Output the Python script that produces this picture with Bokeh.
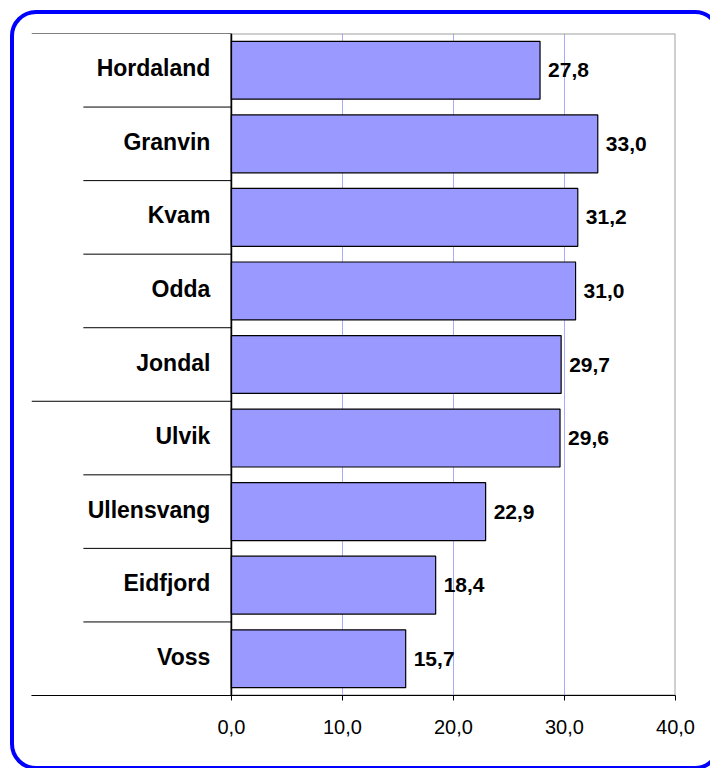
from bokeh.plotting import figure
from bokeh.models import Range1d, FixedTicker, Span
from bokeh.core.properties import value
from bokeh.embed import file_html
from bokeh.resources import INLINE

# ---- data ----
categories = ["Hordaland", "Granvin", "Kvam", "Odda", "Jondal",
              "Ulvik", "Ullensvang", "Eidfjord", "Voss"]
values = [27.8, 33.0, 31.2, 31.0, 29.7, 29.6, 22.9, 18.4, 15.7]
value_labels = ["27,8", "33,0", "31,2", "31,0", "29,7", "29,6", "22,9", "18,4", "15,7"]
xticks = [0, 10, 20, 30, 40]
xtick_labels = ["0,0", "10,0", "20,0", "30,0", "40,0"]
group_breaks_after = ["Jondal"]   # long separator line below this category

n = len(categories)
centers = [n - i - 0.5 for i in range(n)]

FONT = "Liberation Sans"
X_MIN = -18.0  # label area to the left of the value axis
W, H = 710, 768

# decorative rounded frame around the chart (right and bottom sides run off the page)
frame_svg = ("data:image/svg+xml;utf8,<svg xmlns='http://www.w3.org/2000/svg' "
             f"width='{W}' height='{H}' viewBox='0 0 {W} {H}'>"
             "<rect x='12' y='12' width='707' height='756' rx='24' ry='24' "
             "fill='none' stroke='%230000ff' stroke-width='4'/></svg>")

p = figure(width=W, height=H, output_backend="svg", toolbar_location=None,
           x_range=Range1d(X_MIN, 40), y_range=Range1d(0, n),
           y_axis_location=None,
           min_border_left=31, min_border_right=35,
           min_border_top=33, min_border_bottom=73,
           styles={"background-image": f'url("{frame_svg}")',
                   "background-repeat": "no-repeat",
                   "background-position": "0px 0px",
                   "background-size": f"{W}px {H}px",
                   "background-color": "white"})
p.outline_line_color = None
p.background_fill_color = None
p.border_fill_color = None

# x axis
p.xaxis.ticker = FixedTicker(ticks=xticks)
p.xaxis.major_label_overrides = {t: l for t, l in zip(xticks, xtick_labels)}
p.xaxis.axis_line_color = "black"
p.xaxis.axis_line_width = 1
p.xaxis.major_tick_line_color = "black"
p.xaxis.major_tick_in = 0
p.xaxis.major_tick_out = 5
p.xaxis.minor_tick_line_color = None
p.xaxis.major_label_text_font = FONT
p.xaxis.major_label_text_font_size = "20px"
p.xaxis.major_label_text_color = "black"
p.xaxis.major_label_standoff = 19

# grid
p.xgrid.ticker = FixedTicker(ticks=xticks)
p.xgrid.grid_line_color = "#aaaaff"
p.xgrid.grid_line_width = 1
p.ygrid.grid_line_color = None

# plot-area border (gray, top & right)
p.quad(left=[0], right=[xticks[-1]], bottom=[0], top=[n],
       fill_color=None, line_color="#a0a0a0", line_width=2)

# bars
p.hbar(y=centers, right=values, left=0, height=0.787,
       fill_color="#9999ff", line_color="black", line_width=1.2)

# category separators
boundaries = list(range(1, n))
long_b = [n - (categories.index(c) + 1) for c in group_breaks_after]
short_b = [b for b in boundaries if b not in long_b]
p.segment(x0=-13.33, x1=0, y0=short_b, y1=short_b, line_color="black", line_width=1)
long_all = [0, n] + long_b
p.segment(x0=X_MIN, x1=0, y0=long_all, y1=long_all, line_color="black", line_width=1)

# value axis line
p.add_layout(Span(location=0, dimension="height", line_color="black", line_width=1.5))

# category labels
p.text(x=0, y=centers, text=categories, x_offset=-21, y_offset=-2, text_align="right",
       text_baseline="middle", text_font=value(FONT), text_font_style="bold",
       text_font_size="23px", text_color="black")

# value labels
p.text(x=values, y=centers, text=value_labels, x_offset=8, text_align="left",
       text_baseline="middle", text_font=value(FONT), text_font_style="bold",
       text_font_size="21px", text_color="black")

open("out.html", "w").write(file_html(p, INLINE))
